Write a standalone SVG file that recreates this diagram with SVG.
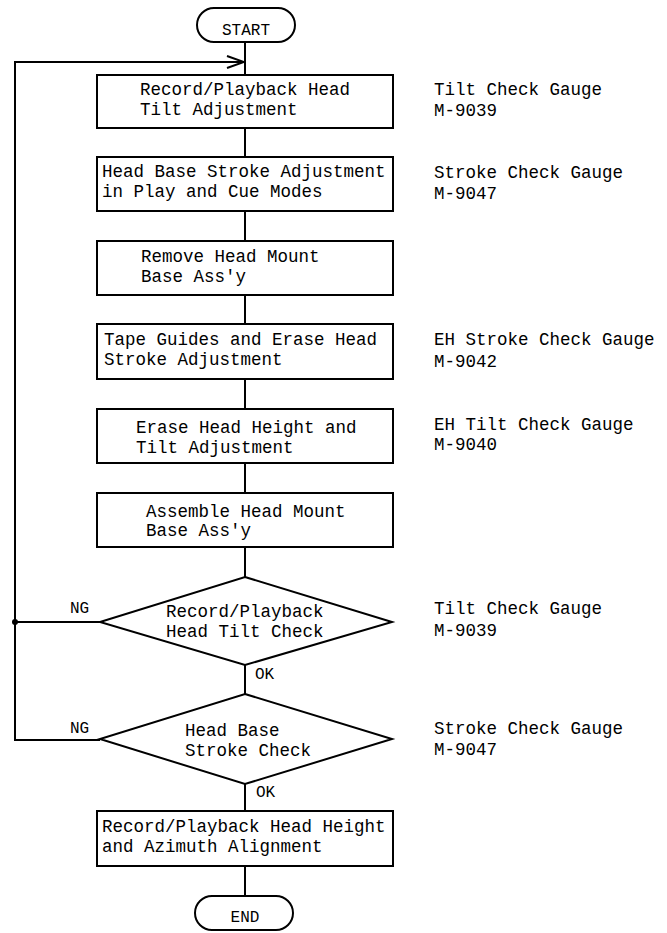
<svg xmlns="http://www.w3.org/2000/svg" width="667" height="933" viewBox="0 0 667 933">
<defs>
<style>
.s rect,.s polygon{fill:#fff;stroke:#000;stroke-width:2}
.c line,.c polyline,.c path{fill:none;stroke:#000;stroke-width:2}
text{font-family:"Liberation Mono","DejaVu Sans Mono",monospace;font-size:17.5px;fill:#000}
.lbl{font-size:16px}
</style>
<marker id="open" markerWidth="20" markerHeight="14" refX="18" refY="7" orient="auto" markerUnits="userSpaceOnUse">
<polyline points="1,1 18,7 1,13" fill="none" stroke="#000" stroke-width="2"/>
</marker>
</defs>
<rect width="667" height="933" fill="#fff"/>
<g class="c" id="connectors">
<line x1="245" y1="42" x2="245" y2="75"/>
<line x1="245" y1="128" x2="245" y2="157"/>
<line x1="245" y1="211" x2="245" y2="241"/>
<line x1="245" y1="295" x2="245" y2="324"/>
<line x1="245" y1="379" x2="245" y2="409"/>
<line x1="245" y1="463" x2="245" y2="493"/>
<line x1="245" y1="547" x2="245" y2="577"/>
<line x1="245" y1="665" x2="245" y2="694"/>
<line x1="245" y1="784" x2="245" y2="811"/>
<line x1="245" y1="866" x2="245" y2="896"/>
<polyline points="100,740 15,740 15,62 244,62" marker-end="url(#open)"/>
<line x1="15" y1="622" x2="100" y2="622"/>
<circle cx="15" cy="622" r="3" fill="#000"/>
<text class="lbl" x="70" y="613">NG</text>
<text class="lbl" x="70" y="733">NG</text>
<text class="lbl" x="255" y="679">OK</text>
<text class="lbl" x="256" y="797">OK</text>
</g>
<g class="s">
<g id="start"><rect x="197" y="8" width="98" height="34" rx="17"/><text class="lbl" x="246" y="35" text-anchor="middle">START</text></g>
<g id="n1"><rect x="97" y="75" width="296" height="53"/><text x="140" y="95">Record/Playback Head</text><text x="140" y="115">Tilt Adjustment</text></g>
<g id="n2"><rect x="97" y="157" width="296" height="54"/><text x="102" y="177">Head Base Stroke Adjustment</text><text x="102" y="197">in Play and Cue Modes</text></g>
<g id="n3"><rect x="97" y="241" width="296" height="54"/><text x="141" y="262">Remove Head Mount</text><text x="141" y="282">Base Ass'y</text></g>
<g id="n4"><rect x="97" y="324" width="296" height="55"/><text x="104" y="345">Tape Guides and Erase Head</text><text x="104" y="365">Stroke Adjustment</text></g>
<g id="n5"><rect x="97" y="409" width="296" height="54"/><text x="136" y="433">Erase Head Height and</text><text x="136" y="453">Tilt Adjustment</text></g>
<g id="n6"><rect x="97" y="493" width="296" height="54"/><text x="146" y="517">Assemble Head Mount</text><text x="146" y="536">Base Ass'y</text></g>
<g id="d1"><polygon points="245,577 392,622 245,665 100,622"/><text x="166" y="617">Record/Playback</text><text x="166" y="637">Head Tilt Check</text></g>
<g id="d2"><polygon points="245,694 392,739 245,784 100,739"/><text x="185" y="736">Head Base</text><text x="185" y="756">Stroke Check</text></g>
<g id="n7"><rect x="97" y="811" width="296" height="55"/><text x="102" y="832">Record/Playback Head Height</text><text x="102" y="852">and Azimuth Alignment</text></g>
<g id="end"><rect x="195" y="896" width="98" height="34" rx="17"/><text class="lbl" x="245" y="922" text-anchor="middle">END</text></g>
</g>
<g id="tools">
<text x="434" y="95">Tilt Check Gauge</text><text x="434" y="116">M-9039</text>
<text x="434" y="178">Stroke Check Gauge</text><text x="434" y="199">M-9047</text>
<text x="434" y="345">EH Stroke Check Gauge</text><text x="434" y="367">M-9042</text>
<text x="434" y="430">EH Tilt Check Gauge</text><text x="434" y="450">M-9040</text>
<text x="434" y="614">Tilt Check Gauge</text><text x="434" y="636">M-9039</text>
<text x="434" y="734">Stroke Check Gauge</text><text x="434" y="755">M-9047</text>
</g>
</svg>
